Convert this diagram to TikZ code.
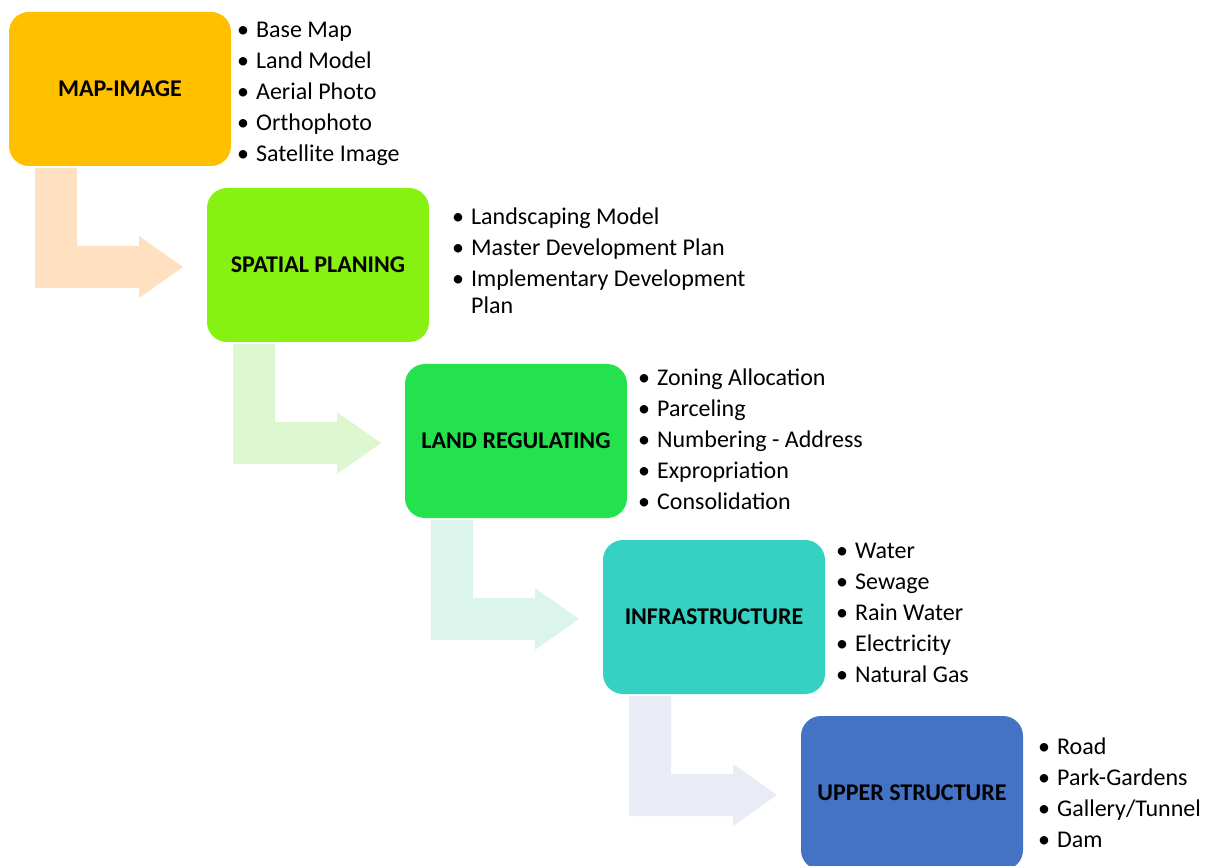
\documentclass[tikz,border=0pt]{standalone}
\usepackage{fontspec}
\setmainfont{Carlito}
\usepackage{tikz}
\usetikzlibrary{calc,positioning}

\definecolor{mapfill}{HTML}{FFC000}
\definecolor{spatialfill}{HTML}{87F111}
\definecolor{landfill}{HTML}{24E24D}
\definecolor{infrafill}{HTML}{35D2C4}
\definecolor{upperfill}{HTML}{4472C4}
\definecolor{maparrow}{HTML}{FFE0C0}
\definecolor{spatialarrow}{HTML}{DDF8D1}
\definecolor{landarrow}{HTML}{DCF5EC}
\definecolor{infraarrow}{HTML}{E9EBF5}

\newcommand{\itemlist}[1]{\begin{tabular}{@{}l@{\hspace{7pt}}l@{}}#1\end{tabular}}
\newcommand{\bendarrow}[3]{%
  \fill[#3] let \p1=(#1.south west), \p2=(#2.west) in
    (\x1+26pt,\y1-2pt) -- (\x1+68pt,\y1-2pt) -- (\x1+68pt,\y2+19pt)
    -- (\x2-68pt,\y2+19pt) -- (\x2-68pt,\y2+29pt) -- (\x2-24pt,\y2-2pt)
    -- (\x2-68pt,\y2-33pt) -- (\x2-68pt,\y2-23pt) -- (\x1+26pt,\y2-23pt) -- cycle;}

\begin{document}
\begin{tikzpicture}[node distance=22pt and -24pt,
    stage/.style={rounded corners=20pt, minimum width=222pt, minimum height=154pt,
      outer sep=0pt, font=\fontsize{24}{29}\selectfont\bfseries},
    items/.style={inner sep=0pt, font=\fontsize{24}{31}\selectfont}]
  \useasboundingbox (0,0) rectangle (1207pt,-866pt);

  \node[stage, fill=mapfill] (map) at (120pt,-89pt) {MAP-IMAGE};
  \node[stage, fill=spatialfill, below right=of map] (spatial) {SPATIAL PLANING};
  \node[stage, fill=landfill, below right=of spatial] (land) {LAND REGULATING};
  \node[stage, fill=infrafill, below right=of land] (infra) {INFRASTRUCTURE};
  \node[stage, fill=upperfill, below right=of infra] (upper) {UPPER STRUCTURE};

  \node[items, right=6pt of map, yshift=-4pt] (maplist) {\itemlist{
    \textbullet & Base Map\\
    \textbullet & Land Model\\
    \textbullet & Aerial Photo\\
    \textbullet & Orthophoto\\
    \textbullet & Satellite Image}};
  \node[items, right=23pt of spatial, yshift=2pt] (spatiallist) {\itemlist{
    \textbullet & Landscaping Model\\
    \textbullet & Master Development Plan\\
    \textbullet & Implementary Development\\[-4pt]
                & Plan}};
  \node[items, right=11pt of land, yshift=0pt] (landlist) {\itemlist{
    \textbullet & Zoning Allocation\\
    \textbullet & Parceling\\
    \textbullet & Numbering - Address\\
    \textbullet & Expropriation\\
    \textbullet & Consolidation}};
  \node[items, right=11pt of infra, yshift=3pt] (infralist) {\itemlist{
    \textbullet & Water\\
    \textbullet & Sewage\\
    \textbullet & Rain Water\\
    \textbullet & Electricity\\
    \textbullet & Natural Gas}};
  \node[items, right=15pt of upper, yshift=-2pt] (upperlist) {\itemlist{
    \textbullet & Road\\
    \textbullet & Park-Gardens\\
    \textbullet & Gallery/Tunnel\\
    \textbullet & Dam}};

  \bendarrow{map}{spatial}{maparrow}
  \bendarrow{spatial}{land}{spatialarrow}
  \bendarrow{land}{infra}{landarrow}
  \bendarrow{infra}{upper}{infraarrow}
\end{tikzpicture}
\end{document}
